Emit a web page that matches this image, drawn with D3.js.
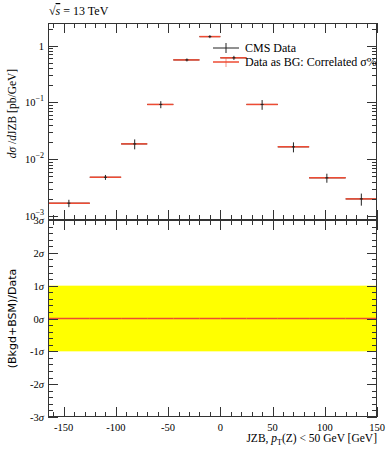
<!DOCTYPE html>
<html>
<head>
<meta charset="utf-8">
<script src="https://cdn.jsdelivr.net/npm/d3@7"></script>
<style>
  body { margin: 0; background: #fff; }
  text { font-family: "Liberation Serif", "DejaVu Serif", serif; fill: #000; }
</style>
</head>
<body>
<div id="vis"></div>
<script>
// bins and values
var binLo = [-165, -125, -95, -70, -45, -20, 0, 25, 55, 85, 120];
var binHi = [-125, -95, -70, -45, -20, 0, 25, 55, 85, 120, 150];
var binX = [-145, -110, -82, -57, -32, -10, 13, 40, 70, 102, 135];
var cmsData = [0.00168, 0.0048, 0.0186, 0.092, 0.56, 1.44, 0.61, 0.092, 0.0165, 0.0047, 0.0020];
var cmsErr = [0.00025, 0.00048, 0.0037, 0.013, 0.034, 0.086, 0.05, 0.018, 0.0033, 0.00085, 0.00048];
var bgData = [0.00168, 0.0048, 0.0186, 0.092, 0.56, 1.44, 0.61, 0.092, 0.0165, 0.0047, 0.0020];
var ratio = [0, 0, 0, 0, 0, 0, 0, 0, 0, 0, 0];
var xTicks = [-150, -100, -50, 0, 50, 100, 150];
var yTicks = [1, 0.1, 0.01, 0.001];
var yTickLabels = ['1', '10', '10', '10'];
var yTickExp = ['', '−1', '−2', '−3'];
var sigTicks = [3, 2, 1, 0, -1, -2, -3];

var W = 389, H = 450;
var left = 48, right = 377;
var top1 = 23, bot1 = 220, top2 = 220, bot2 = 417;
var red = '#ee4b33';

var svg = d3.select('#vis').append('svg')
    .attr('width', W)
    .attr('height', H);

var x = d3.scaleLinear().domain([-165, 150]).range([left, right]);
var y = d3.scaleLog().domain([0.00085, 2.5]).range([bot1, top1]);
var yr = d3.scaleLinear().domain([-3, 3]).range([bot2, top2]);

//________________________________________________
// ratio panel background
//________________________________________________
svg.append('rect')
    .attr('x', x(-165))
    .attr('width', x(150) - x(-165))
    .attr('y', yr(1))
    .attr('height', yr(-1) - yr(1))
    .attr('fill', '#ffff00');

svg.append('g').selectAll('line')
    .data(ratio)
    .enter()
    .append('line')
    .attr('x1', function (d, i) { return x(binLo[i]); })
    .attr('x2', function (d, i) { return x(binHi[i]); })
    .attr('y1', function (d) { return yr(d); })
    .attr('y2', function (d) { return yr(d); })
    .attr('stroke', red)
    .attr('stroke-width', 1.5);

//________________________________________________
// main panel marks
//________________________________________________
var pts = svg.append('g');

// black data horizontal bars (mostly hidden under red)
pts.selectAll('line.h')
    .data(cmsData)
    .enter()
    .append('line')
    .attr('x1', function (d, i) { return x(binLo[i]); })
    .attr('x2', function (d, i) { return x(binHi[i]); })
    .attr('y1', function (d) { return y(d); })
    .attr('y2', function (d) { return y(d); })
    .attr('stroke', '#222')
    .attr('stroke-width', 1);

pts.selectAll('line.bg')
    .data(bgData)
    .enter()
    .append('line')
    .attr('x1', function (d, i) { return x(binLo[i]); })
    .attr('x2', function (d, i) { return x(binHi[i]); })
    .attr('y1', function (d) { return y(d); })
    .attr('y2', function (d) { return y(d); })
    .attr('stroke', red)
    .attr('stroke-width', 1.5);

pts.selectAll('line.v')
    .data(cmsData)
    .enter()
    .append('line')
    .attr('x1', function (d, i) { return x(binX[i]); })
    .attr('x2', function (d, i) { return x(binX[i]); })
    .attr('y1', function (d, i) { return y(d + cmsErr[i]); })
    .attr('y2', function (d, i) { return y(d - cmsErr[i]); })
    .attr('stroke', '#222')
    .attr('stroke-width', 1);

pts.selectAll('line.c')
    .data(cmsData)
    .enter()
    .append('line')
    .attr('x1', function (d, i) { return x(binX[i]) - 1.5; })
    .attr('x2', function (d, i) { return x(binX[i]) + 1.5; })
    .attr('y1', function (d) { return y(d); })
    .attr('y2', function (d) { return y(d); })
    .attr('stroke', '#222')
    .attr('stroke-width', 1);

//________________________________________________
// frames and ticks
//________________________________________________
var axes = svg.append('g').attr('stroke', '#333').attr('stroke-width', 1);

function frame(t, b) {
    axes.append('rect')
        .attr('x', left + 0.5).attr('y', t + 0.5)
        .attr('width', right - left - 1).attr('height', b - t - 1)
        .attr('fill', 'none');
}
frame(top1, bot1);
frame(top2, bot2);

function xTicksOn(t, b) {
    d3.range(-160, 151, 10).forEach(function (v) {
        var major = xTicks.indexOf(v) >= 0;
        var len = major ? 10 : 5;
        var px = Math.round(x(v)) + 0.5;
        axes.append('line').attr('x1', px).attr('x2', px).attr('y1', t).attr('y2', t + len);
        axes.append('line').attr('x1', px).attr('x2', px).attr('y1', b).attr('y2', b - len);
    });
}
xTicksOn(top1, bot1);
xTicksOn(top2, bot2);

function yTick(py, len) {
    py = Math.round(py) + 0.5;
    axes.append('line').attr('x1', left).attr('x2', left + len).attr('y1', py).attr('y2', py);
    axes.append('line').attr('x1', right).attr('x2', right - len).attr('y1', py).attr('y2', py);
}

// log ticks
[-4, -3, -2, -1, 0].forEach(function (e) {
    for (var m = 1; m <= 9; m++) {
        var v = m * Math.pow(10, e);
        if (v < y.domain()[0] || v > y.domain()[1]) continue;
        yTick(y(v), m === 1 ? 10 : 5);
    }
});

// sigma ticks
d3.range(-3, 3.001, 0.2).forEach(function (v) {
    var major = Math.abs(v - Math.round(v)) < 1e-6;
    yTick(yr(v), major ? 10 : 5);
});

//________________________________________________
// labels
//________________________________________________
var tl = svg.append('g').attr('font-size', 10.5);

tl.selectAll('text.x')
    .data(xTicks)
    .enter()
    .append('text')
    .attr('x', function (d) { return x(d); })
    .attr('y', 431)
    .attr('text-anchor', 'middle')
    .text(function (d) { return d < 0 ? '-' + Math.abs(d) : d; });

yTicks.forEach(function (v, i) {
    var t = tl.append('text')
        .attr('x', left - 4)
        .attr('y', y(v) + 4)
        .attr('text-anchor', 'end');
    t.append('tspan').text(yTickLabels[i]);
    if (yTickExp[i]) {
        t.append('tspan').attr('dy', -5).attr('font-size', 8).text(yTickExp[i]);
    }
});

sigTicks.forEach(function (v) {
    var t = tl.append('text')
        .attr('x', left - 4)
        .attr('y', yr(v) + 4)
        .attr('text-anchor', 'end');
    t.append('tspan').text(v < 0 ? '-' + Math.abs(v) : v);
    t.append('tspan').attr('font-style', 'italic').text('σ');
});

// sqrt(s)
var title = svg.append('text')
    .attr('x', left + 1)
    .attr('y', 15)
    .attr('font-size', 12);
title.append('tspan').text('√');
title.append('tspan').attr('font-style', 'italic').attr('text-decoration', 'overline').text('s');
title.append('tspan').text(' = 13 TeV');

// y titles
var yt = svg.append('text')
    .attr('transform', 'translate(16,' + ((top1 + bot1) / 2 - 8) + ') rotate(-90)')
    .attr('text-anchor', 'middle')
    .attr('font-size', 11.5);
yt.append('tspan').attr('font-style', 'italic').text('dσ');
yt.append('tspan').text(' /');
yt.append('tspan').attr('font-style', 'italic').text('d');
yt.append('tspan').text('JZB [pb/GeV]');

svg.append('text')
    .attr('transform', 'translate(16,' + ((top2 + bot2) / 2) + ') rotate(-90)')
    .attr('text-anchor', 'middle')
    .attr('font-size', 11)
    .style('font-family', '"DejaVu Sans", sans-serif')
    .text('(Bkgd+BSM)/Data');

// x title
var xt = svg.append('text')
    .attr('x', right)
    .attr('y', 442)
    .attr('text-anchor', 'end')
    .attr('font-size', 11.5);
xt.append('tspan').text('JZB, ');
xt.append('tspan').attr('font-style', 'italic').text('p');
xt.append('tspan').attr('font-size', 8).attr('dy', 3).text('T');
xt.append('tspan').attr('dy', -3).text('(Z) < 50 GeV [GeV]');

//________________________________________________
// legend
//________________________________________________
var leg = svg.append('g');
var legItems = [
    { label: 'CMS Data', color: '#222', y: 48 },
    { label: 'Data as BG: Correlated σ%', color: red, y: 62 }
];
legItems.forEach(function (d, i) {
    leg.append('line')
        .attr('x1', 213).attr('x2', 239)
        .attr('y1', d.y).attr('y2', d.y)
        .attr('stroke', d.color)
        .attr('stroke-width', i === 0 ? 1 : 1.5);
    leg.append('line')
        .attr('x1', 226).attr('x2', 226)
        .attr('y1', d.y - 5).attr('y2', d.y + 5)
        .attr('stroke', d.color)
        .attr('stroke-opacity', i === 0 ? 1 : 0.6)
        .attr('stroke-width', 1);
    leg.append('text')
        .attr('x', 245)
        .attr('y', d.y + 4)
        .attr('font-size', 12)
        .text(d.label);
});
</script>
</body>
</html>
